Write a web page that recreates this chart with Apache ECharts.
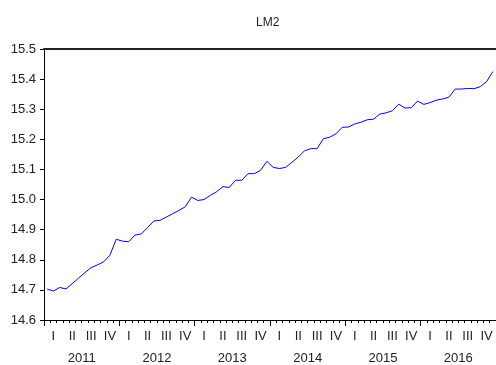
<!DOCTYPE html>
<html>
<head>
<meta charset="utf-8">
<script src="https://cdn.jsdelivr.net/npm/echarts@6/dist/echarts.min.js"></script>
<style>html,body{margin:0;padding:0;background:#fff}#c{width:496px;height:365px}</style>
</head>
<body>
<div id="c"></div>
<script>
var years = ['2011','2012','2013','2014','2015','2016'];
var quarterLabels = ['I','II','III','IV'];
var yTicks = [14.6, 14.7, 14.8, 14.9, 15.0, 15.1, 15.2, 15.3, 15.4, 15.5];
var lm2_2011 = [14.703, 14.696, 14.708, 14.703, 14.721, 14.739, 14.757, 14.774, 14.783, 14.793, 14.815, 14.868];
var lm2_2012 = [14.862, 14.860, 14.882, 14.886, 14.907, 14.929, 14.931, 14.942, 14.953, 14.964, 14.976, 15.008];
var lm2_2013 = [14.997, 15.000, 15.014, 15.026, 15.043, 15.040, 15.064, 15.064, 15.086, 15.086, 15.097, 15.127];
var lm2_2014 = [15.107, 15.103, 15.107, 15.124, 15.141, 15.162, 15.169, 15.169, 15.202, 15.207, 15.218, 15.240];
var lm2_2015 = [15.241, 15.251, 15.257, 15.265, 15.267, 15.284, 15.288, 15.295, 15.317, 15.304, 15.305, 15.327];
var lm2_2016 = [15.316, 15.322, 15.330, 15.334, 15.340, 15.367, 15.367, 15.369, 15.368, 15.375, 15.392, 15.425];

var values = [].concat(lm2_2011, lm2_2012, lm2_2013, lm2_2014, lm2_2015, lm2_2016);
var months = [];
years.forEach(function (y) {
  for (var m = 1; m <= 12; m++) months.push(y + '-' + (m < 10 ? '0' + m : m));
});

var FONT = "'Liberation Sans', Arial, sans-serif";
var chart = echarts.init(document.getElementById('c'), null, {renderer: 'canvas'});
chart.setOption({
  animation: false,
  backgroundColor: '#fff',
  title: {
    text: 'LM2', left: 251, top: 12,
    textStyle: {fontSize: 12, fontWeight: 'normal', color: '#222', fontFamily: FONT}
  },
  grid: {left: 44, top: 49, width: 455, height: 272, containLabel: false},
  xAxis: [
    {
      type: 'category', data: months, boundaryGap: true, position: 'bottom',
      axisLine: {show: true, lineStyle: {color: '#000', width: 1}},
      axisTick: {show: true, interval: 0, length: 3, lineStyle: {color: '#000'}},
      axisLabel: {
        interval: 0, margin: 10, fontSize: 13, color: '#222', fontFamily: FONT,
        formatter: function (v, i) { return i % 3 === 1 ? quarterLabels[Math.floor(i / 3) % 4] : ''; }
      },
      splitLine: {show: false}
    },
    {
      type: 'category', data: years, boundaryGap: true, position: 'bottom',
      axisLine: {show: false},
      axisTick: {show: true, interval: 0, length: 6, lineStyle: {color: '#000'}},
      axisLabel: {interval: 0, margin: 32, fontSize: 13, color: '#222', fontFamily: FONT},
      splitLine: {show: false}
    },
    {
      type: 'category', data: years, position: 'top',
      axisLine: {show: true, lineStyle: {color: '#222', width: 2}},
      axisTick: {show: false}, axisLabel: {show: false}, splitLine: {show: false}
    }
  ],
  yAxis: {
    type: 'value', min: yTicks[0], max: yTicks[yTicks.length - 1], interval: 0.1,
    axisLine: {show: true, lineStyle: {color: '#000', width: 1}},
    axisTick: {show: true, length: 4, lineStyle: {color: '#000'}},
    axisLabel: {
      margin: 8, fontSize: 13, color: '#222', fontFamily: FONT,
      formatter: function (v) { return v.toFixed(1); }
    },
    splitLine: {show: false}
  },
  series: [{
    type: 'line', xAxisIndex: 0, data: values, showSymbol: false, symbol: 'none',
    lineStyle: {color: '#0000ff', width: 1}, clip: false
  }]
});
</script>
</body>
</html>
